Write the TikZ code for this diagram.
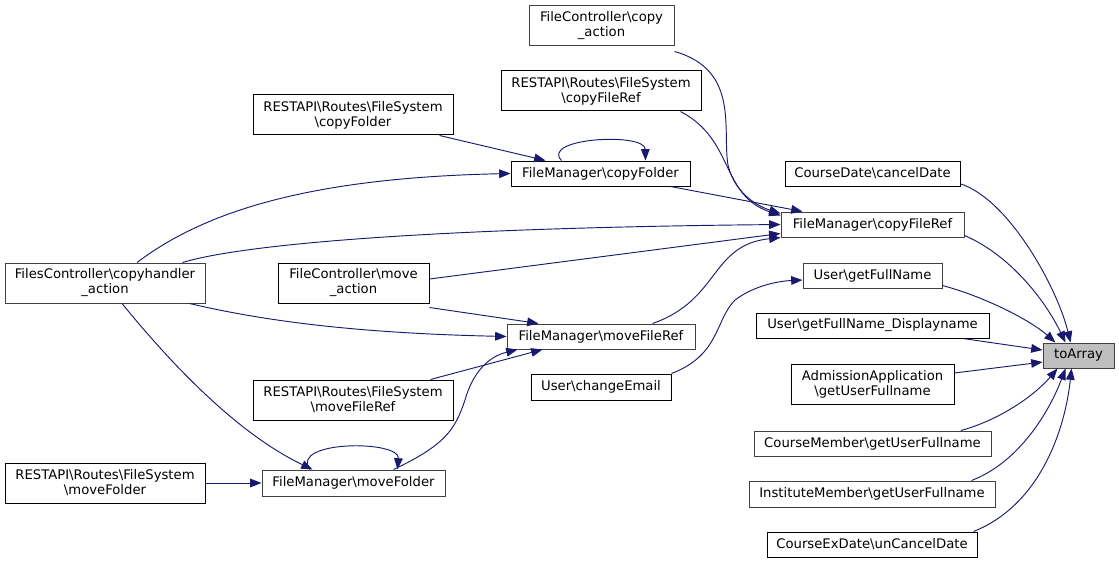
\documentclass[tikz,border=0pt]{standalone}
\usepackage{fontspec}
\setmainfont{DejaVu Sans}
\usetikzlibrary{arrows.meta}
\definecolor{edgec}{HTML}{191970}
\definecolor{greyb}{HTML}{404040}
\definecolor{fillg}{HTML}{BFBFBF}
\newcommand{\bs}{\textbackslash}
\begin{document}
\begin{tikzpicture}[x=0.75pt,y=-0.75pt,
  font=\fontsize{9.9}{11.3}\selectfont,
  nb/.style={draw=black, line width=0.75pt, fill=white, inner sep=0pt, align=center},
  gb/.style={nb, draw=greyb},
  wh/.style 2 args={minimum width=#1*0.75pt, minimum height=#2*0.75pt},
  calls/.style={draw=edgec, line width=0.7pt, -{Triangle[length=8.5pt,width=6.5pt]}, edgec}]
\useasboundingbox (0,0) rectangle (1119,563);
% nodes
\node[gb, wh={145}{40}] (fcc) at (601.5,26) {FileController\bs copy\\\_action};
\node[nb, wh={200}{40}] (rcfr) at (601,91) {RESTAPI\bs Routes\bs FileSystem\\\bs copyFileRef};
\node[nb, wh={200}{40}] (rcf) at (353,115) {RESTAPI\bs Routes\bs FileSystem\\\bs copyFolder};
\node[nb, wh={179}{25}] (fmcf) at (600.5,173.5) {FileManager\bs copyFolder};
\node[nb, wh={175}{25}] (cdc) at (872.5,173.5) {CourseDate\bs cancelDate};
\node[gb, wh={183}{25}] (fmcfr) at (872.5,224.5) {FileManager\bs copyFileRef};
\node[gb, wh={200}{40}] (fch) at (105,283) {FilesController\bs copyhandler\\\_action};
\node[nb, wh={151}{40}] (fcm) at (353.5,283) {FileController\bs move\\\_action};
\node[gb, wh={139}{25}] (ugf) at (872.5,275.5) {User\bs getFullName};
\node[gb, wh={188}{25}] (fmmfr) at (601,336.5) {FileManager\bs moveFileRef};
\node[nb, wh={233}{25}] (ugfd) at (872.5,325.5) {User\bs getFullName\_Displayname};
\node[gb, wh={71}{25}, fill=fillg] (toArray) at (1078.5,355.5) {toArray};
\node[nb, wh={140}{26}] (uce) at (601,387) {User\bs changeEmail};
\node[nb, wh={163}{40}] (aa) at (872.5,384) {AdmissionApplication\\\bs getUserFullname};
\node[nb, wh={200}{40}] (rmfr) at (353,400) {RESTAPI\bs Routes\bs FileSystem\\\bs moveFileRef};
\node[gb, wh={237}{25}] (cm) at (872.5,443.5) {CourseMember\bs getUserFullname};
\node[nb, wh={200}{40}] (rmf) at (105,483) {RESTAPI\bs Routes\bs FileSystem\\\bs moveFolder};
\node[gb, wh={183}{26}] (fmmf) at (353.5,483) {FileManager\bs moveFolder};
\node[gb, wh={246}{26}] (im) at (872,494) {InstituteMember\bs getUserFullname};
\node[nb, wh={210}{25}] (ced) at (872,544.5) {CourseExDate\bs unCancelDate};
% edges to toArray
\draw[calls] ([yshift=1.5pt]fmcfr.south east) .. controls (1010,255) and (1045,300) .. ([xshift=17.25pt]toArray.north west);
\draw[calls] ([yshift=2pt]cdc.south east) .. controls (1010,200) and (1058,290) .. ([xshift=21pt]toArray.north west);
\draw[calls] ([yshift=2.25pt]ugf.south east) .. controls (985,297) and (1030,320) .. ([xshift=9.75pt]toArray.north west);
\draw[calls] ([xshift=-20pt]ugfd.south east) -- ([yshift=4.1pt]toArray.west);
\draw[calls] ([yshift=8.25pt]aa.east) -- ([yshift=-4.9pt]toArray.west);
\draw[calls] ([xshift=-23pt]cm.north east) .. controls (1000,420) and (1035,395) .. ([xshift=11.25pt]toArray.south west);
\draw[calls] ([xshift=-18pt]im.north east) .. controls (1020,462) and (1050,410) .. ([xshift=17.25pt]toArray.south west);
\draw[calls] ([xshift=-3pt]ced.north east) .. controls (1040,505) and (1065,430) .. ([xshift=21.75pt]toArray.south west);
% edges to copyFileRef
\draw[calls] ([yshift=-3.75pt]fcc.south east) .. controls (740,70) and (722,130) .. (728,165) .. controls (735,195) and (760,207) .. ([yshift=-1.5pt]fmcfr.north west);
\draw[calls] ([xshift=-15.75pt]rcfr.south east) .. controls (735,140) and (720,195) .. ([yshift=-3pt]fmcfr.north west);
\draw[calls] ([xshift=-15pt]fmcf.south east) -- ([xshift=16.5pt]fmcfr.north west);
\draw[calls] ([xshift=-17.25pt]fch.north east) .. controls (240,245) and (420,228) .. (fmcfr.west);
\draw[calls] ([yshift=3pt]fcm.east) -- ([yshift=3pt]fmcfr.south west);
\draw[calls] ([xshift=-32.25pt]fmmfr.north east) .. controls (720,300) and (710,245) .. (fmcfr.south west);
% edges to copyFolder
\draw[calls] ([xshift=-10.5pt]rcf.south east) -- ([xshift=26.25pt]fmcf.north west);
\draw[calls] ([xshift=24pt]fch.north) .. controls (200,215) and (300,178) .. (fmcf.west);
\draw[calls] ([xshift=38.25pt]fmcf.north west) .. controls (540,138) and (645,132) .. ([xshift=-33.75pt]fmcf.north east);
% edges to moveFileRef
\draw[calls] ([yshift=-3pt]fcm.south east) -- ([xshift=24pt]fmmfr.north west);
\draw[calls] ([xshift=-12pt]fch.south east) .. controls (260,320) and (350,333) .. (fmmfr.west);
\draw[calls] ([xshift=-17.25pt]rmfr.north east) -- ([xshift=27pt]fmmfr.south west);
\draw[calls] ([xshift=-39pt]fmmf.north east) .. controls (445,445) and (455,430) .. (465,400) .. controls (475,365) and (495,355) .. ([xshift=8.25pt]fmmfr.south west);
% edges to moveFolder
\draw[calls] ([xshift=12.75pt]fch.south) .. controls (160,350) and (230,430) .. ([xshift=38.25pt]fmmf.north west);
\draw[calls] (rmf.east) -- (fmmf.west);
\draw[calls] ([xshift=36pt]fmmf.north west) .. controls (290,440) and (400,440) .. ([xshift=-36pt]fmmf.north east);
% edge to getFullName
\draw[calls] (uce.north east) .. controls (720,355) and (715,320) .. (735,300) .. controls (755,285) and (780,281) .. ([yshift=-3.4pt]ugf.west);
\end{tikzpicture}
\end{document}
